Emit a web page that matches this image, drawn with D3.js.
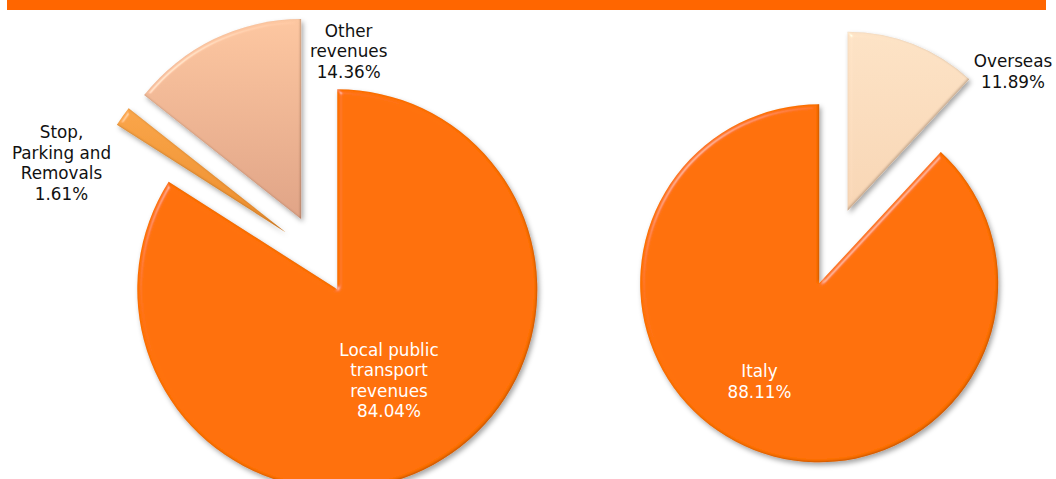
<!DOCTYPE html>
<html>
<head>
<meta charset="utf-8">
<script src="https://cdn.jsdelivr.net/npm/d3@7"></script>
<style>
  body { margin: 0; background: #fff; }
  text { font-family: "DejaVu Sans", Verdana, sans-serif; font-size: 16.8px; }
</style>
</head>
<body>
<div id="chart"></div>
<script>
// Revenue breakdown (left pie), shares in %
const revenueLabels = ["Local public\ntransport\nrevenues", "Stop,\nParking and\nRemovals", "Other\nrevenues"];
const revenueValues = [84.04, 1.61, 14.36];

// Geographical breakdown (right pie), shares in %
const marketLabels = ["Italy", "Overseas"];
const marketValues = [88.11, 11.89];

const width = 1056, height = 479;

const svg = d3.select("#chart")
    .append("svg")
    .attr("width", width)
    .attr("height", height);

// Orange band across the top
svg.append("rect")
    .attr("x", 7).attr("y", 0)
    .attr("width", 1039).attr("height", 10)
    .attr("fill", "#ff6600");

const defs = svg.append("defs");

// Soft bevel + shadow, a bit like the office "3D" look
const f = defs.append("filter").attr("id", "bevel")
    .attr("x", "-20%").attr("y", "-20%").attr("width", "140%").attr("height", "140%");
f.append("feGaussianBlur").attr("in", "SourceAlpha").attr("stdDeviation", 2.5).attr("result", "blur");
const spec = f.append("feSpecularLighting")
    .attr("in", "blur").attr("surfaceScale", 3)
    .attr("specularConstant", 0.6).attr("specularExponent", 60)
    .attr("lighting-color", "#ffffff").attr("result", "spec");
spec.append("feDistantLight").attr("azimuth", 225).attr("elevation", 40);
f.append("feComposite").attr("in", "spec").attr("in2", "SourceAlpha").attr("operator", "in").attr("result", "specIn");
f.append("feComposite").attr("in", "SourceGraphic").attr("in2", "specIn")
    .attr("operator", "arithmetic").attr("k1", 0).attr("k2", 1).attr("k3", 0.45).attr("k4", 0)
    .attr("result", "lit");
// darker rim on the lower/right edges
f.append("feGaussianBlur").attr("in", "SourceAlpha").attr("stdDeviation", 1).attr("result", "blur1");
f.append("feOffset").attr("in", "blur1").attr("dx", -1.2).attr("dy", -1.2).attr("result", "shift");
f.append("feComposite").attr("in", "SourceAlpha").attr("in2", "shift").attr("operator", "out").attr("result", "rim");
f.append("feFlood").attr("flood-color", "#4a2200").attr("flood-opacity", 0.5);
f.append("feComposite").attr("in2", "rim").attr("operator", "in").attr("result", "rimC");
// drop shadow
f.append("feOffset").attr("in", "blur").attr("dx", 1.5).attr("dy", 2.5).attr("result", "off");
f.append("feFlood").attr("flood-color", "#000").attr("flood-opacity", 0.35);
f.append("feComposite").attr("in2", "off").attr("operator", "in").attr("result", "shadow");
const merge = f.append("feMerge");
merge.append("feMergeNode").attr("in", "shadow");
merge.append("feMergeNode").attr("in", "lit");
merge.append("feMergeNode").attr("in", "rimC");

// Vertical gradients for the lighter slices
function gradient(id, top, bottom) {
    const g = defs.append("linearGradient").attr("id", id)
        .attr("x1", 0).attr("y1", 0).attr("x2", 0).attr("y2", 1);
    g.append("stop").attr("offset", "0%").attr("stop-color", top);
    g.append("stop").attr("offset", "100%").attr("stop-color", bottom);
}
gradient("gStop", "#faa64a", "#ec8d2e");
gradient("gOther", "#fdc7a1", "#e0a487");
gradient("gOverseas", "#fde3c6", "#f8d6b5");

const pct = v => v.toFixed(2) + "%";

function drawPie(opt) {
    const start = opt.startAngle || 0;
    const pie = d3.pie().sort(null).startAngle(start).endAngle(start + 2 * Math.PI);
    const arcs = pie(opt.values);
    const arc = d3.arc().innerRadius(0).outerRadius(opt.r);

    const g = svg.append("g").attr("transform", `translate(${opt.cx},${opt.cy})`);

    g.selectAll("path.slice")
        .data(arcs)
        .enter()
        .append("path")
        .attr("class", "slice")
        .attr("transform", (d, i) => {
            const mid = (d.startAngle + d.endAngle) / 2;
            const e = opt.explode[i];
            return `translate(${Math.sin(mid) * e},${-Math.cos(mid) * e})`;
        })
        .attr("d", arc)
        .attr("fill", (d, i) => opt.fills[i])
        .attr("filter", "url(#bevel)");

    // labels: name lines + percentage
    arcs.forEach((d, i) => {
        const lines = opt.labels[i].split("\n").concat([pct(d.value)]);
        const [lx, ly] = opt.labelPos[i];
        const lh = 20.5;
        const t = svg.append("text")
            .attr("text-anchor", "middle")
            .attr("fill", opt.labelColor[i]);
        lines.forEach((s, k) => {
            t.append("tspan")
                .attr("x", lx)
                .attr("y", ly - (lines.length - 1) / 2 * lh + 6 + k * lh)
                .text(s);
        });
    });
}

drawPie({
    values: revenueValues,
    labels: revenueLabels,
    cx: 319, cy: 256, r: 200,
    explode: [38, 41, 41],
    fills: ["#ff7109", "url(#gStop)", "url(#gOther)"],
    labelColor: ["#ffffff", "#111111", "#111111"],
    labelPos: [[389, 380.5], [61.5, 162.8], [348.7, 51]]
});

drawPie({
    values: marketValues,
    labels: marketLabels,
    cx: 833.4, cy: 247, r: 179,
    startAngle: 2 * Math.PI * marketValues[1] / d3.sum(marketValues),
    explode: [39, 39],
    fills: ["#ff7109", "url(#gOverseas)"],
    labelColor: ["#ffffff", "#111111"],
    labelPos: [[759.5, 381.3], [1013, 71.3]]
});
</script>
</body>
</html>
